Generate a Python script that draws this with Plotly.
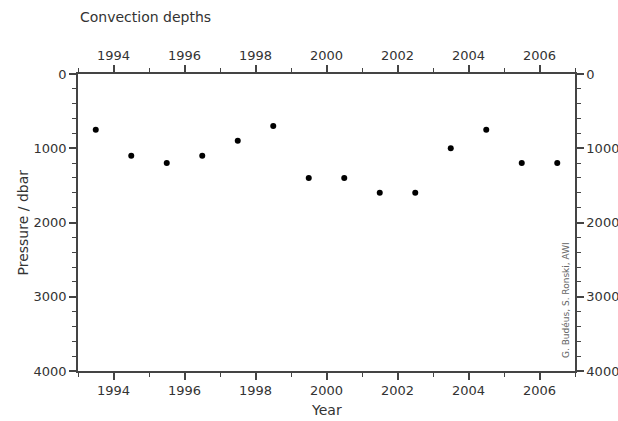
import plotly.graph_objects as go

years = [1993.5, 1994.5, 1995.5, 1996.5, 1997.5, 1998.5, 1999.5,
         2000.5, 2001.5, 2002.5, 2003.5, 2004.5, 2005.5, 2006.5]
depths = [750, 1100, 1200, 1100, 900, 700, 1400,
          1400, 1600, 1600, 1000, 750, 1200, 1200]

x_range = [1993, 2007]
y_range = [4000, 0]
x_ticks = [1994, 1996, 1998, 2000, 2002, 2004, 2006]
y_ticks = [0, 1000, 2000, 3000, 4000]

FONT = "DejaVu Sans"
TXT = "#333333"
LINE = "#444444"

fig = go.Figure()
fig.add_trace(go.Scatter(x=years, y=depths, mode="markers",
                         marker=dict(color="black", size=6, symbol="circle"),
                         showlegend=False, hoverinfo="x+y"))
fig.add_trace(go.Scatter(x=years, y=depths, mode="markers", xaxis="x2", yaxis="y2",
                         marker=dict(opacity=0), showlegend=False, hoverinfo="skip"))

common_x = dict(range=x_range, tickvals=x_ticks, ticktext=[str(t) for t in x_ticks],
                showgrid=False, zeroline=False, showline=True, linecolor=LINE, linewidth=1.5,
                ticks="outside", ticklen=7, tickwidth=1.5, tickcolor=LINE, automargin=False,
                tickfont=dict(family=FONT, size=13, color=TXT),
                minor=dict(tickvals=[1993, 1995, 1997, 1999, 2001, 2003, 2005, 2007],
                           ticks="outside", ticklen=4, tickwidth=1, tickcolor=LINE))
common_y = dict(range=y_range, tickvals=y_ticks, ticktext=[str(t) for t in y_ticks],
                showgrid=False, zeroline=False, showline=True, linecolor=LINE, linewidth=1.5,
                ticks="outside", ticklen=7, tickwidth=1.5, tickcolor=LINE, automargin=False,
                tickfont=dict(family=FONT, size=13, color=TXT),
                minor=dict(dtick=200, ticks="outside", ticklen=4, tickwidth=1, tickcolor=LINE))

fig.update_layout(
    width=618, height=421,
    margin=dict(l=78, r=43, t=74, b=50),
    plot_bgcolor="white", paper_bgcolor="white",
    xaxis=dict(**common_x),
    yaxis=dict(**common_y),
    xaxis2=dict(**common_x, overlaying="x", side="top", anchor="y"),
    yaxis2=dict(**common_y, overlaying="y", side="right", anchor="x"),
    annotations=[
        dict(text="Convection depths", xref="paper", yref="paper", x=0, y=1,
             xanchor="left", yanchor="middle", yshift=74 - 17, showarrow=False,
             font=dict(family=FONT, size=14, color=TXT)),
        dict(text="Year", xref="paper", yref="paper", x=0.5, y=0,
             xanchor="center", yanchor="middle", yshift=-(410 - 371), showarrow=False,
             font=dict(family=FONT, size=14, color=TXT)),
        dict(text="Pressure / dbar", xref="paper", yref="paper", x=0, y=0.5,
             xanchor="center", yanchor="middle", xshift=-(78 - 22), textangle=-90,
             showarrow=False, font=dict(family=FONT, size=14, color=TXT)),
        dict(text="G. Budéus, S. Ronski, AWI", xref="paper", yref="paper", x=1, y=0,
             xanchor="center", yanchor="middle", xshift=-9, yshift=71, textangle=-90,
             showarrow=False, font=dict(family=FONT, size=9, color="#666666")),
    ],
)

fig.write_html("out.html")
